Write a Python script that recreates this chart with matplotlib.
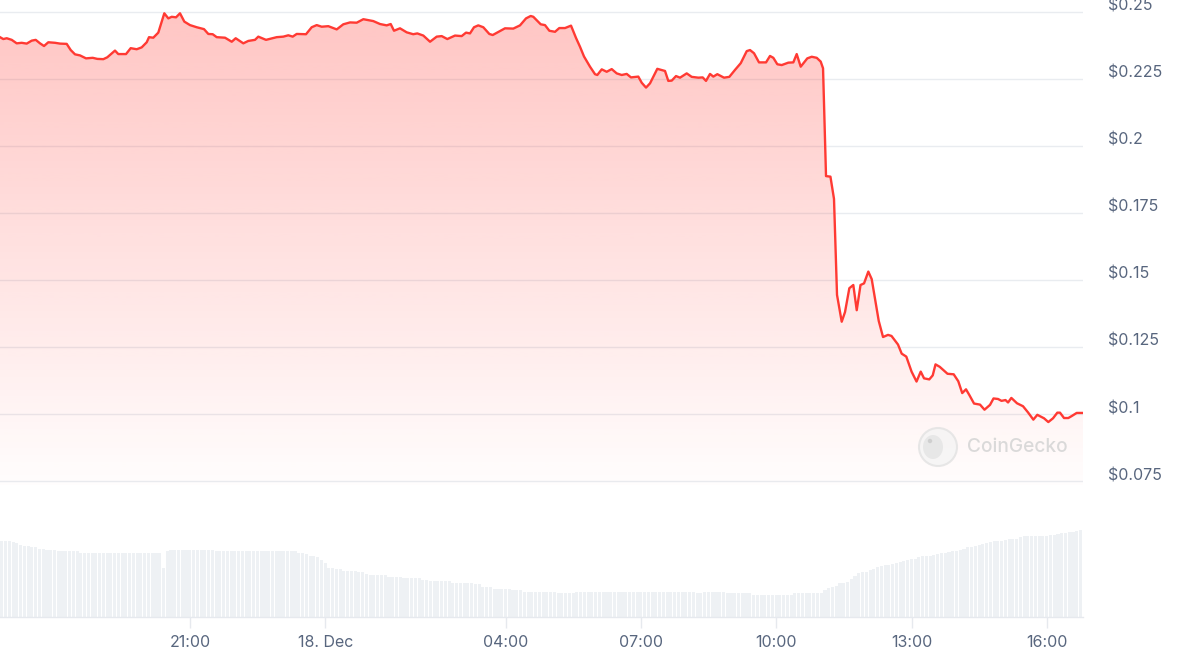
import numpy as np
import matplotlib
matplotlib.use("Agg")
import matplotlib.pyplot as plt
from matplotlib.patches import Polygon, Circle, Ellipse
from matplotlib.transforms import ScaledTranslation

# ---------------- data ----------------
# hours relative to 00:00, 18 Dec (negative = 17 Dec)
price_hours = [
    -7.213, -7.140, -7.064, -6.953, -6.843, -6.732, -6.621, -6.510, -6.421, -6.326,
    -6.237, -6.142, -5.993, -5.882, -5.734, -5.645, -5.550, -5.439, -5.306, -5.157,
    -5.055, -4.922, -4.834, -4.663, -4.590, -4.419, -4.315, -4.182, -4.071, -3.960,
    -3.909, -3.814, -3.703, -3.570, -3.481, -3.406, -3.310, -3.222, -3.126, -3.000,
    -2.851, -2.690, -2.594, -2.497, -2.408, -2.224, -2.075, -1.987, -1.818, -1.707,
    -1.559, -1.486, -1.315, -1.078, -0.931, -0.820, -0.723, -0.634, -0.428, -0.302,
    -0.191, -0.080, 0.067, 0.253, 0.399, 0.548, 0.696, 0.843, 1.064, 1.213,
    1.361, 1.450, 1.523, 1.656, 1.805, 1.949, 2.040, 2.173, 2.322, 2.470,
    2.581, 2.705, 2.876, 3.024, 3.120, 3.208, 3.297, 3.392, 3.503, 3.636,
    3.712, 3.874, 3.984, 4.168, 4.317, 4.450, 4.554, 4.612, 4.776, 4.871,
    4.967, 5.093, 5.188, 5.315, 5.448, 5.559, 5.648, 5.736, 5.869, 5.980,
    6.031, 6.129, 6.239, 6.350, 6.461, 6.572, 6.683, 6.778, 6.940, 7.016,
    7.111, 7.200, 7.361, 7.532, 7.605, 7.681, 7.776, 7.865, 8.013, 8.124,
    8.271, 8.368, 8.441, 8.530, 8.603, 8.692, 8.840, 8.958, 9.084, 9.211,
    9.344, 9.417, 9.506, 9.616, 9.772, 9.860, 9.934, 10.022, 10.120, 10.266,
    10.377, 10.452, 10.541, 10.687, 10.785, 10.896, 10.984, 11.036, 11.102, 11.200,
    11.279, 11.346, 11.450, 11.523, 11.619, 11.707, 11.783, 11.867, 11.945, 12.040,
    12.115, 12.271, 12.366, 12.477, 12.554, 12.698, 12.780, 12.882, 12.999, 13.109,
    13.202, 13.275, 13.392, 13.468, 13.530, 13.623, 13.796, 13.933, 14.035, 14.122,
    14.206, 14.279, 14.384, 14.517, 14.616, 14.738, 14.816, 14.916, 14.993, 15.082,
    15.138, 15.211, 15.337, 15.470, 15.581, 15.699, 15.787, 15.936, 16.031, 16.135,
    16.231, 16.290, 16.379, 16.474, 16.556, 16.660, 16.807,
]
price_usd = [
    0.2405, 0.2398, 0.2401, 0.2395, 0.2382, 0.2384, 0.2381, 0.2392, 0.2395, 0.2382,
    0.2372, 0.2386, 0.2384, 0.2381, 0.2380, 0.2357, 0.2341, 0.2337, 0.2326, 0.2328,
    0.2324, 0.2323, 0.2330, 0.2355, 0.2342, 0.2342, 0.2364, 0.2360, 0.2367, 0.2386,
    0.2405, 0.2403, 0.2422, 0.2494, 0.2475, 0.2481, 0.2479, 0.2494, 0.2463, 0.2450,
    0.2442, 0.2435, 0.2417, 0.2416, 0.2405, 0.2403, 0.2388, 0.2401, 0.2382, 0.2391,
    0.2395, 0.2407, 0.2395, 0.2405, 0.2407, 0.2412, 0.2407, 0.2417, 0.2416, 0.2442,
    0.2450, 0.2444, 0.2446, 0.2434, 0.2453, 0.2460, 0.2459, 0.2472, 0.2465, 0.2454,
    0.2449, 0.2454, 0.2429, 0.2438, 0.2423, 0.2416, 0.2419, 0.2411, 0.2388, 0.2407,
    0.2409, 0.2398, 0.2411, 0.2409, 0.2422, 0.2419, 0.2442, 0.2449, 0.2442, 0.2417,
    0.2413, 0.2428, 0.2438, 0.2437, 0.2449, 0.2475, 0.2484, 0.2481, 0.2453, 0.2450,
    0.2429, 0.2425, 0.2439, 0.2439, 0.2448, 0.2402, 0.2369, 0.2333, 0.2295, 0.2267,
    0.2264, 0.2285, 0.2276, 0.2286, 0.2270, 0.2264, 0.2268, 0.2255, 0.2258, 0.2235,
    0.2217, 0.2233, 0.2287, 0.2279, 0.2242, 0.2243, 0.2260, 0.2254, 0.2270, 0.2257,
    0.2254, 0.2255, 0.2242, 0.2268, 0.2258, 0.2267, 0.2254, 0.2257, 0.2283, 0.2308,
    0.2353, 0.2357, 0.2345, 0.2311, 0.2311, 0.2335, 0.2328, 0.2304, 0.2301, 0.2310,
    0.2311, 0.2342, 0.2295, 0.2326, 0.2332, 0.2328, 0.2314, 0.2289, 0.1887, 0.1885,
    0.1802, 0.1444, 0.1344, 0.1380, 0.1469, 0.1481, 0.1387, 0.1481, 0.1487, 0.1531,
    0.1503, 0.1347, 0.1287, 0.1295, 0.1291, 0.1259, 0.1225, 0.1214, 0.1158, 0.1121,
    0.1158, 0.1133, 0.1129, 0.1144, 0.1185, 0.1176, 0.1150, 0.1148, 0.1122, 0.1078,
    0.1092, 0.1071, 0.1039, 0.1035, 0.1016, 0.1034, 0.1058, 0.1056, 0.1049, 0.1052,
    0.1043, 0.1060, 0.1040, 0.1029, 0.1006, 0.0979, 0.0997, 0.0984, 0.0970, 0.0984,
    0.1005, 0.1005, 0.0985, 0.0985, 0.0993, 0.1004, 0.1004,
]

# volume bars: one every 5 minutes, starting at the left edge of the window
volume_start_hour = -7.213
volume_step_hours = 5 / 60
volume = [
    76, 76, 76, 75, 74, 72, 71, 71, 70, 70, 68, 68, 67, 67, 67,
    66, 66, 66, 66, 66, 66,
    64, 64, 64, 64, 64, 64, 64, 64, 64, 64, 64, 64, 64, 64, 64, 64, 64, 64, 64, 64, 64, 64,
    49, 66,
    67, 67, 67, 67, 67, 67, 67, 67, 67, 67, 67, 67,
    66, 66,
    66, 66, 66, 66, 66, 66, 66, 66, 66, 66, 66, 66, 66, 66, 66, 66, 66, 66, 66, 66,
    64, 64, 63, 61, 61, 60, 57, 54, 49, 49, 48, 48, 46, 46, 46, 46, 45, 45, 43,
    42, 42, 42, 42, 42, 40, 40, 40, 40, 39, 39, 39, 39, 39, 37, 37,
    36, 36, 36, 36, 36, 36, 34, 34, 34, 34, 34, 34, 33, 33, 30, 30, 30,
    28, 28, 28, 28, 28, 27, 27, 27,
    25, 25, 25, 25, 25, 25, 25, 25, 25, 24, 24, 24, 24, 24,
    25, 25, 25, 25, 25, 25, 25, 25, 25, 25, 25, 25, 25, 25, 25, 25,
    25, 25, 25, 25, 25, 25, 25, 25, 25, 25, 25, 25, 25, 25, 25, 25,
    24, 24, 25, 25, 25, 25, 25, 25, 24, 24, 24, 24, 24, 24, 24,
    22, 22, 22, 22, 22, 22, 22, 22, 22, 22, 22,
    24, 24, 24, 24, 24, 24, 24, 24,
    27, 29, 30, 31, 34, 34, 35, 38, 41, 44, 45, 45, 47, 48, 50, 51, 52, 52,
    53, 54, 55, 56, 57, 58, 58, 60, 61, 61, 61, 62, 63, 64, 64, 65, 66, 66,
    67, 68, 70, 70, 71, 72, 73, 74, 75, 76, 76, 76, 77, 78, 78, 78, 80, 81,
    81, 81, 81, 81, 81, 81, 82, 82, 83, 84, 84, 85, 85, 86, 87,
]

y_ticks = [0.075, 0.1, 0.125, 0.15, 0.175, 0.2, 0.225, 0.25]
y_tick_labels = ["$0.075", "$0.1", "$0.125", "$0.15", "$0.175", "$0.2", "$0.225", "$0.25"]
x_ticks = [-3, 0, 4, 7, 10, 13, 16]
x_tick_labels = ["21:00", "18. Dec", "04:00", "07:00", "10:00", "13:00", "16:00"]

# ---------------- style ----------------
plt.rcParams["font.family"] = ["Inter", "DejaVu Sans"]
LINE = "#ff3a33"
GRID = "#e9ecf0"
TXT = "#58667e"
VOL = "#eef1f4"

W, H, DPI = 1178, 663, 100
fig = plt.figure(figsize=(W / DPI, H / DPI), dpi=DPI)
fig.patch.set_facecolor("white")

x_min, x_max = -7.213, 16.80
right_frac = 1083 / W

# price axes
ax = fig.add_axes([0, 1 - 485 / H, right_frac, 485 / H])
ax.set_xlim(x_min, x_max)
y_lo, y_hi = 0.07353, 0.25436
ax.set_ylim(y_lo, y_hi)
ax.set_facecolor("none")
for s in ax.spines.values():
    s.set_visible(False)
ax.set_xticks([])
ax.yaxis.tick_right()
ax.set_yticks(y_ticks)
ax.set_yticklabels(y_tick_labels)
ax.tick_params(axis="y", length=0, pad=18, labelsize=11.5, labelcolor=TXT)
shift = ScaledTranslation(0, 7 / DPI, fig.dpi_scale_trans)
for lab in ax.get_yticklabels():
    lab.set_horizontalalignment("left")
    lab.set_transform(lab.get_transform() + shift)
ax.grid(axis="y", color=GRID, linewidth=1.0)
ax.set_axisbelow(True)

t = np.array(price_hours)
p = np.array(price_usd)

# gradient fill under the line
verts = [(t[0], y_lo)] + list(zip(t, p)) + [(t[-1], y_lo)]
poly = Polygon(verts, closed=True, facecolor="none", edgecolor="none")
ax.add_patch(poly)
n = 256
grad = np.zeros((n, 1, 4))
grad[:, 0, 0] = 1.0
grad[:, 0, 1] = 58 / 255
grad[:, 0, 2] = 51 / 255
grad[:, 0, 3] = np.linspace(0.30, 0.01, n)
im = ax.imshow(grad, extent=[x_min, x_max, y_lo, y_hi], aspect="auto",
               origin="upper", zorder=1, interpolation="bilinear")
im.set_clip_path(poly)

ax.plot(t, p, color=LINE, linewidth=1.7, solid_joinstyle="round", zorder=3)

# watermark
cx, cy = 938 / W, 1 - 447 / H
fig.patches.append(Circle((938, H - 447), 19, transform=None, facecolor="#f4f4f4",
                          edgecolor="#e2e2e2", linewidth=1.5, alpha=0.8, zorder=5))
fig.patches.append(Ellipse((933, H - 447), 20, 24, transform=None, facecolor="#e4e4e4",
                           edgecolor="none", alpha=0.8, zorder=6))
fig.patches.append(Circle((930, H - 441), 2.2, transform=None, facecolor="#cfcfcf",
                          edgecolor="none", zorder=7))
fig.text(967 / W, cy, "CoinGecko", fontsize=13.8, color="#d6d6d6", ha="left",
         va="center", fontweight="medium", alpha=0.9)

# volume axes
axv = fig.add_axes([0, 1 - 617 / H, right_frac, 90 / H])
axv.set_xlim(x_min, x_max)
axv.set_ylim(0, 90)
axv.set_facecolor("none")
vol = np.array(volume, dtype=float)
vt = volume_start_hour + volume_step_hours * (np.arange(len(vol)) + 0.5)
axv.bar(vt, vol, width=volume_step_hours * 0.82, color=VOL, linewidth=0)
for k in ["top", "left", "right"]:
    axv.spines[k].set_visible(False)
axv.spines["bottom"].set_color("#e6e9ee")
axv.spines["bottom"].set_linewidth(1.0)
axv.set_yticks([])
axv.set_xticks(x_ticks)
axv.set_xticklabels(x_tick_labels)
axv.tick_params(axis="x", length=8, width=1, color="#e6e9ee", pad=5,
                labelsize=11.5, labelcolor=TXT)

fig.savefig("out.png", dpi=DPI, facecolor="white")
